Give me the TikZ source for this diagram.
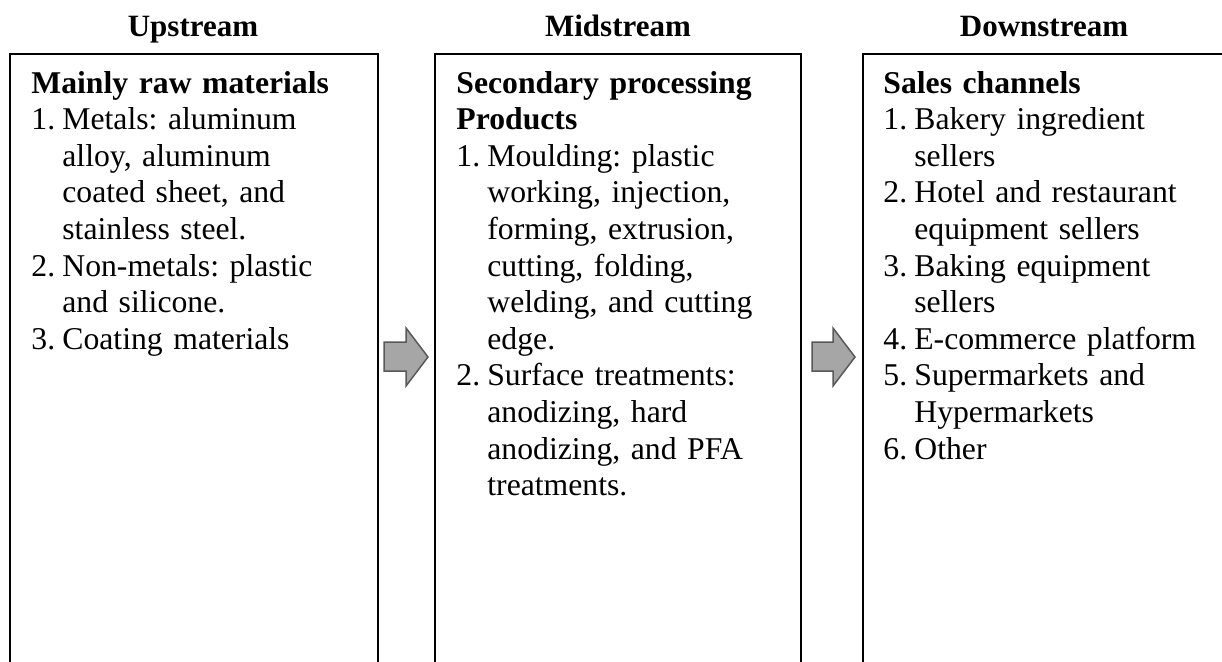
\documentclass[tikz,border=0pt]{standalone}
\usepackage{fontspec}
\setmainfont{Liberation Serif}
\definecolor{arrowfill}{HTML}{A6A6A6}
\definecolor{arrowdraw}{HTML}{595959}
\newcommand\litem[2]{\par\hangindent=15.5pt\hangafter=1\noindent\makebox[15.5pt][l]{#1}#2\par}
\tikzset{
  panel/.style={draw, line width=1pt, minimum width=#1, minimum height=400pt, anchor=north west, inner sep=0pt},
  body/.style={anchor=base west, text width=172pt, inner sep=0pt, font=\fontsize{15.85pt}{18.3pt}\selectfont\frenchspacing\raggedright},
  head/.style={anchor=base, inner sep=0pt, font=\fontsize{15.5pt}{18pt}\selectfont\bfseries},
  blockarrow/.style={fill=arrowfill, draw=arrowdraw, line width=0.75pt, line join=miter}
}
\begin{document}
\begin{tikzpicture}[x=0.5pt,y=-0.5pt]
\useasboundingbox (0,0) rectangle (1222,661);
\begin{scope}
\clip (0,0) rectangle (1222,661);
% headers
\node[head] (hup) at (193,36) {Upstream};
\node[head] (hmid) at (618,36) {Midstream};
\node[head] (hdown) at (1044,36) {Downstream};
% panels
\node[panel=184pt] (up) at (9,53) {};
\node[panel=183pt] (mid) at (434,53) {};
\node[panel=190pt] (down) at (862,53) {};
% texts
\node[body] (uptext) at (31,93) {\parindent=0pt\textbf{Mainly raw materials}
\litem{1.}{Metals: aluminum\newline alloy, aluminum\newline coated sheet, and\newline stainless steel.}
\litem{2.}{Non-metals: plastic\newline and silicone.}
\litem{3.}{Coating materials}};
\node[body] (midtext) at (456,93) {\parindent=0pt\textbf{Secondary processing}\newline \textbf{Products}
\litem{1.}{Moulding: plastic\newline working, injection,\newline forming, extrusion,\newline cutting, folding,\newline welding, and cutting\newline edge.}
\litem{2.}{Surface treatments:\newline anodizing, hard\newline anodizing, and PFA\newline treatments.}};
\node[body] (downtext) at (883,93) {\parindent=0pt\textbf{Sales channels}
\litem{1.}{Bakery ingredient\newline sellers}
\litem{2.}{Hotel and restaurant\newline equipment sellers}
\litem{3.}{Baking equipment\newline sellers}
\litem{4.}{E-commerce platform}
\litem{5.}{Supermarkets and\newline Hypermarkets}
\litem{6.}{Other}};
% block arrows
\draw[blockarrow] (384,342) -- (406,342) -- (406,328) -- (428,357) -- (406,386) -- (406,371) -- (384,371) -- cycle;
\draw[blockarrow] (812,342) -- (833,342) -- (833,328) -- (855,357) -- (833,386) -- (833,371) -- (812,371) -- cycle;
\end{scope}
\end{tikzpicture}
\end{document}
